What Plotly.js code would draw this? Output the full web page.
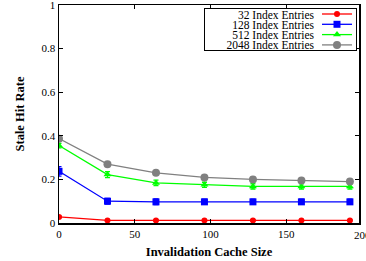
<!DOCTYPE html>
<html>
<head>
<meta charset="utf-8">
<script src="https://cdn.plot.ly/plotly-3.0.1.min.js"></script>
<style>html,body{margin:0;padding:0;background:#fff;}#chart{width:366px;height:261px;}</style>
</head>
<body>
<div id="chart"></div>
<script>
const cacheSizes = [0, 32, 64, 96, 128, 160, 192];
const seriesNames = ["32 Index Entries", "128 Index Entries", "512 Index Entries", "2048 Index Entries"];
const hit32   = [0.028, 0.012, 0.012, 0.012, 0.012, 0.012, 0.012];
const hit128  = [0.237, 0.100, 0.097, 0.097, 0.097, 0.097, 0.097];
const hit512  = [0.355, 0.222, 0.184, 0.175, 0.168, 0.168, 0.168];
const hit2048 = [0.387, 0.270, 0.230, 0.209, 0.200, 0.195, 0.190];
const err32   = [0.004, 0.003, 0.003, 0.003, 0.003, 0.003, 0.003];
const err128  = [0.022, 0.013, 0.013, 0.012, 0.012, 0.012, 0.012];
const err512  = [0.010, 0.014, 0.013, 0.012, 0.012, 0.012, 0.012];
const err2048 = [0.008, 0.008, 0.009, 0.010, 0.010, 0.010, 0.010];
const xTickVals = [0, 50, 100, 150, 200];
const yTickVals = [0, 0.2, 0.4, 0.6, 0.8, 1];
const colors = ["#ff0000", "#0000ff", "#00ff00", "#808080"];
const symbols = ["circle", "square", "triangle-up", "circle"];
const msizes = [6, 7, 7, 8];

const ys = [hit32, hit128, hit512, hit2048];
const errs = [err32, err128, err512, err2048];
const traces = ys.map((y, i) => ({
  x: cacheSizes, y: y, name: seriesNames[i], type: "scatter", mode: "lines+markers",
  line: {color: colors[i], width: 1.3},
  marker: {color: colors[i], symbol: symbols[i], size: msizes[i]},
  error_y: {type: "data", array: errs[i], visible: true, color: colors[i], thickness: 1.3, width: 2.5}
}));

const FAM = "Liberation Serif";
const font = {family: FAM, size: 11, color: "#000"};
const xMax = 198;
const layout = {
  width: 366, height: 261,
  margin: {l: 59, r: 7, t: 5, b: 38},
  paper_bgcolor: "#fff", plot_bgcolor: "#fff",
  font: font,
  showlegend: true,
  legend: {
    x: 0.987, y: 0.986, xanchor: "right", yanchor: "top",
    bordercolor: "#000", borderwidth: 1, bgcolor: "#fff",
    font: {family: FAM, size: 11.5, color: "#000"},
    tracegroupgap: 0, itemwidth: 30
  },
  xaxis: {
    range: [0, xMax], tickvals: xTickVals.slice(0, 4), ticktext: xTickVals.slice(0, 4).map(String),
    ticks: "inside", ticklen: 4, tickcolor: "#000", mirror: "ticks",
    showline: true, linecolor: "#000", linewidth: 1.5, showgrid: false, zeroline: false,
    title: {text: "<b>Invalidation Cache Size</b>", font: {family: FAM, size: 12.5, color: "#000"}, standoff: 8},
    tickfont: font, ticklabeloverflow: "allow"
  },
  yaxis: {
    range: [0, 1], tickvals: yTickVals, ticktext: yTickVals.map(String),
    ticks: "inside", ticklen: 4, tickcolor: "#000", mirror: "ticks",
    showline: true, linecolor: "#000", linewidth: 1.5, showgrid: false, zeroline: false,
    title: {text: "<b>Stale Hit Rate</b>", font: {family: FAM, size: 12.5, color: "#000"}, standoff: 14},
    tickfont: font, ticklabeloverflow: "allow"
  },
  annotations: [{
    x: xTickVals[4] / xMax, y: 0, xref: "paper", yref: "paper", text: String(xTickVals[4]), showarrow: false,
    xanchor: "center", yanchor: "top", yshift: -4, font: font
  }]
};

Plotly.newPlot("chart", traces, layout, {staticPlot: true, displayModeBar: false}).then(gd => {
  // gnuplot-style legend: compact rows, text right-aligned left of the sample
  const leg = gd.querySelector(".legend");
  if (!leg) return;
  const W = 152, H = 42, rowH = 10.3, top = 6;
  leg.setAttribute("transform", "translate(204,8)");
  const bg = leg.querySelector("rect.bg");
  if (bg) { bg.setAttribute("width", W); bg.setAttribute("height", H); bg.setAttribute("x", 0); bg.setAttribute("y", 0); }
  const sb = leg.querySelector(".scrollbox");
  if (sb) { sb.removeAttribute("clip-path"); sb.setAttribute("transform", "translate(0,0)"); }
  const items = leg.querySelectorAll("g.traces");
  items.forEach((it, i) => {
    it.setAttribute("transform", "translate(0," + (top + i * rowH) + ")");
    const t = it.querySelector("text.legendtext");
    if (t) {
      t.setAttribute("x", 110);
      t.style.textAnchor = "end";
      t.querySelectorAll("tspan").forEach(ts => { if (ts.hasAttribute("x")) ts.setAttribute("x", 110); });
    }
    const lay = it.querySelector("g.layers");
    if (lay) lay.setAttribute("transform", "translate(113,0)");
  });
});
</script>
</body>
</html>
